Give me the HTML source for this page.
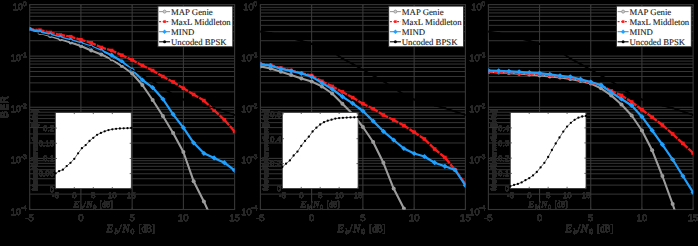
<!DOCTYPE html><html><head><meta charset="utf-8"><style>html,body{margin:0;padding:0;background:#000;overflow:hidden}svg{display:block}</style></head><body>
<svg xmlns="http://www.w3.org/2000/svg" width="698" height="246" viewBox="0 0 698 246" text-rendering="geometricPrecision">
<rect x="0" y="0" width="698" height="246" fill="#000"/>
<defs><filter id="blk" x="-20%" y="-20%" width="140%" height="140%"><feComponentTransfer><feFuncA type="discrete" tableValues="0 1 1 1 1 1 1 1 1 1 1 1"/></feComponentTransfer></filter></defs>
<clipPath id="clip0"><rect x="29.7" y="4.6" width="204.9" height="204.9"/></clipPath>
<path d="M29.7 40.73H234.6M29.7 31.73H234.6M29.7 25.34H234.6M29.7 20.39H234.6M29.7 16.34H234.6M29.7 12.92H234.6M29.7 9.95H234.6M29.7 7.34H234.6M29.7 91.86H234.6M29.7 82.86H234.6M29.7 76.47H234.6M29.7 71.52H234.6M29.7 67.47H234.6M29.7 64.04H234.6M29.7 61.08H234.6M29.7 58.46H234.6M29.7 142.98H234.6M29.7 133.98H234.6M29.7 127.59H234.6M29.7 122.64H234.6M29.7 118.59H234.6M29.7 115.17H234.6M29.7 112.20H234.6M29.7 109.59H234.6M29.7 194.11H234.6M29.7 185.11H234.6M29.7 178.72H234.6M29.7 173.77H234.6M29.7 169.72H234.6M29.7 166.29H234.6M29.7 163.33H234.6M29.7 160.71H234.6" stroke="#363636" stroke-width="1" fill="none"/>
<path d="M29.7 56.12H234.6M29.7 107.25H234.6M29.7 158.38H234.6M80.92 4.6V209.5M132.15 4.6V209.5M183.38 4.6V209.5" stroke="#3c3c3c" stroke-width="1" fill="none"/>
<path d="M29.70 209.5v-2M29.70 4.6v2M80.92 209.5v-2M80.92 4.6v2M132.15 209.5v-2M132.15 4.6v2M183.38 209.5v-2M183.38 4.6v2M234.60 209.5v-2M234.60 4.6v2" stroke="#363636" stroke-width="1" fill="none"/>
<rect x="29.7" y="4.6" width="204.9" height="204.9" fill="none" stroke="#363636" stroke-width="1.1"/>
<text x="22.90" y="9.60" font-family="Liberation Sans, sans-serif" font-size="9.2" fill="#272727" stroke="#272727" stroke-width="0.25" filter="url(#blk)" text-anchor="end">10</text>
<text x="22.90" y="5.50" font-family="Liberation Sans, sans-serif" font-size="6.6" fill="#272727" stroke="#272727" stroke-width="0.25" filter="url(#blk)">0</text>
<text x="20.90" y="60.83" font-family="Liberation Sans, sans-serif" font-size="9.2" fill="#272727" stroke="#272727" stroke-width="0.25" filter="url(#blk)" text-anchor="end">10</text>
<text x="20.90" y="56.73" font-family="Liberation Sans, sans-serif" font-size="6.6" fill="#272727" stroke="#272727" stroke-width="0.25" filter="url(#blk)">-1</text>
<text x="20.90" y="112.05" font-family="Liberation Sans, sans-serif" font-size="9.2" fill="#272727" stroke="#272727" stroke-width="0.25" filter="url(#blk)" text-anchor="end">10</text>
<text x="20.90" y="107.95" font-family="Liberation Sans, sans-serif" font-size="6.6" fill="#272727" stroke="#272727" stroke-width="0.25" filter="url(#blk)">-2</text>
<text x="20.90" y="163.28" font-family="Liberation Sans, sans-serif" font-size="9.2" fill="#272727" stroke="#272727" stroke-width="0.25" filter="url(#blk)" text-anchor="end">10</text>
<text x="20.90" y="159.18" font-family="Liberation Sans, sans-serif" font-size="6.6" fill="#272727" stroke="#272727" stroke-width="0.25" filter="url(#blk)">-3</text>
<text x="20.90" y="214.50" font-family="Liberation Sans, sans-serif" font-size="9.2" fill="#272727" stroke="#272727" stroke-width="0.25" filter="url(#blk)" text-anchor="end">10</text>
<text x="20.90" y="210.40" font-family="Liberation Sans, sans-serif" font-size="6.6" fill="#272727" stroke="#272727" stroke-width="0.25" filter="url(#blk)">-4</text>
<text x="29.70" y="221.4" font-family="Liberation Sans, sans-serif" font-size="9.6" fill="#272727" stroke="#272727" stroke-width="0.25" filter="url(#blk)" text-anchor="middle">-5</text>
<text x="80.92" y="221.4" font-family="Liberation Sans, sans-serif" font-size="9.6" fill="#272727" stroke="#272727" stroke-width="0.25" filter="url(#blk)" text-anchor="middle">0</text>
<text x="132.15" y="221.4" font-family="Liberation Sans, sans-serif" font-size="9.6" fill="#272727" stroke="#272727" stroke-width="0.25" filter="url(#blk)" text-anchor="middle">5</text>
<text x="183.38" y="221.4" font-family="Liberation Sans, sans-serif" font-size="9.6" fill="#272727" stroke="#272727" stroke-width="0.25" filter="url(#blk)" text-anchor="middle">10</text>
<text x="234.60" y="221.4" font-family="Liberation Sans, sans-serif" font-size="9.6" fill="#272727" stroke="#272727" stroke-width="0.25" filter="url(#blk)" text-anchor="middle">15</text>
<text x="106.55" y="232.40" font-family="Liberation Serif, serif" font-size="11.00" fill="#272727" stroke="#272727" stroke-width="0.25" filter="url(#blk)" font-style="italic">E</text><text x="114.55" y="234.40" font-family="Liberation Serif, serif" font-size="7.60" fill="#272727" stroke="#272727" stroke-width="0.25" filter="url(#blk)" font-style="italic">b</text><text x="118.55" y="232.40" font-family="Liberation Serif, serif" font-size="11.00" fill="#272727" stroke="#272727" stroke-width="0.25" filter="url(#blk)">/</text><text x="122.25" y="232.40" font-family="Liberation Serif, serif" font-size="11.00" fill="#272727" stroke="#272727" stroke-width="0.25" filter="url(#blk)" font-style="italic">N</text><text x="130.55" y="234.40" font-family="Liberation Serif, serif" font-size="7.60" fill="#272727" stroke="#272727" stroke-width="0.25" filter="url(#blk)">0</text><text x="138.45" y="232.40" font-family="Liberation Serif, serif" font-size="11.00" fill="#272727" stroke="#272727" stroke-width="0.25" filter="url(#blk)" textLength="16.40" lengthAdjust="spacingAndGlyphs">[dB]</text>
<g clip-path="url(#clip0)">
<polyline points="29.70,31.60 39.95,33.20 50.19,35.40 60.44,38.20 70.68,40.80 80.92,43.80 91.17,46.90 101.42,51.50 111.66,58.50 121.91,64.00 132.15,69.80 142.40,75.50 152.64,81.30 162.88,88.00 173.13,94.50 183.38,99.50 193.62,102.80 203.87,105.50 214.11,108.20 224.35,111.50 234.60,115.00" fill="none" stroke="#000" stroke-width="1.8" stroke-linejoin="round" />
<polyline points="29.70,29.50 39.95,33.00 50.19,36.00 60.44,39.30 70.68,42.50 80.92,46.00 91.17,50.50 101.42,54.50 111.66,59.30 121.91,66.00 132.15,73.50 142.40,85.00 152.64,100.00 162.88,116.00 173.13,133.00 183.38,152.00 193.62,181.20 203.87,201.40 214.11,224.00" fill="none" stroke="#9c9c9c" stroke-width="2.1" stroke-linejoin="round" />
<circle cx="29.70" cy="29.50" r="2.0" fill="#9c9c9c"/>
<circle cx="39.95" cy="33.00" r="2.0" fill="#9c9c9c"/>
<circle cx="50.19" cy="36.00" r="2.0" fill="#9c9c9c"/>
<circle cx="60.44" cy="39.30" r="2.0" fill="#9c9c9c"/>
<circle cx="70.68" cy="42.50" r="2.0" fill="#9c9c9c"/>
<circle cx="80.92" cy="46.00" r="2.0" fill="#9c9c9c"/>
<circle cx="91.17" cy="50.50" r="2.0" fill="#9c9c9c"/>
<circle cx="101.42" cy="54.50" r="2.0" fill="#9c9c9c"/>
<circle cx="111.66" cy="59.30" r="2.0" fill="#9c9c9c"/>
<circle cx="121.91" cy="66.00" r="2.0" fill="#9c9c9c"/>
<circle cx="132.15" cy="73.50" r="2.0" fill="#9c9c9c"/>
<circle cx="142.40" cy="85.00" r="2.0" fill="#9c9c9c"/>
<circle cx="152.64" cy="100.00" r="2.0" fill="#9c9c9c"/>
<circle cx="162.88" cy="116.00" r="2.0" fill="#9c9c9c"/>
<circle cx="173.13" cy="133.00" r="2.0" fill="#9c9c9c"/>
<circle cx="183.38" cy="152.00" r="2.0" fill="#9c9c9c"/>
<circle cx="193.62" cy="181.20" r="2.0" fill="#9c9c9c"/>
<circle cx="203.87" cy="201.40" r="2.0" fill="#9c9c9c"/>
<line x1="29.70" y1="29.00" x2="39.95" y2="30.20" stroke="#ff1a1a" stroke-width="2.3" stroke-dasharray="4.56 1.2 10.32"/>
<line x1="39.95" y1="30.20" x2="50.19" y2="32.50" stroke="#ff1a1a" stroke-width="2.3" stroke-dasharray="4.65 1.2 10.50"/>
<line x1="50.19" y1="32.50" x2="60.44" y2="35.00" stroke="#ff1a1a" stroke-width="2.3" stroke-dasharray="4.67 1.2 10.55"/>
<line x1="60.44" y1="35.00" x2="70.68" y2="36.70" stroke="#ff1a1a" stroke-width="2.3" stroke-dasharray="4.59 1.2 10.39"/>
<line x1="70.68" y1="36.70" x2="80.92" y2="39.80" stroke="#ff1a1a" stroke-width="2.3" stroke-dasharray="4.75 1.2 10.70"/>
<line x1="80.92" y1="39.80" x2="91.17" y2="42.80" stroke="#ff1a1a" stroke-width="2.3" stroke-dasharray="4.74 1.2 10.68"/>
<line x1="91.17" y1="42.80" x2="101.42" y2="47.50" stroke="#ff1a1a" stroke-width="2.3" stroke-dasharray="5.04 1.2 11.27"/>
<line x1="101.42" y1="47.50" x2="111.66" y2="50.50" stroke="#ff1a1a" stroke-width="2.3" stroke-dasharray="4.74 1.2 10.68"/>
<line x1="111.66" y1="50.50" x2="121.91" y2="55.20" stroke="#ff1a1a" stroke-width="2.3" stroke-dasharray="5.04 1.2 11.27"/>
<line x1="121.91" y1="55.20" x2="132.15" y2="60.00" stroke="#ff1a1a" stroke-width="2.3" stroke-dasharray="5.06 1.2 11.31"/>
<line x1="132.15" y1="60.00" x2="142.40" y2="65.40" stroke="#ff1a1a" stroke-width="2.3" stroke-dasharray="5.19 1.2 11.58"/>
<line x1="142.40" y1="65.40" x2="152.64" y2="70.50" stroke="#ff1a1a" stroke-width="2.3" stroke-dasharray="5.12 1.2 11.44"/>
<line x1="152.64" y1="70.50" x2="162.88" y2="76.50" stroke="#ff1a1a" stroke-width="2.3" stroke-dasharray="5.34 1.2 11.87"/>
<line x1="162.88" y1="76.50" x2="173.13" y2="82.00" stroke="#ff1a1a" stroke-width="2.3" stroke-dasharray="5.21 1.2 11.63"/>
<line x1="173.13" y1="82.00" x2="183.38" y2="88.30" stroke="#ff1a1a" stroke-width="2.3" stroke-dasharray="5.41 1.2 12.03"/>
<line x1="183.38" y1="88.30" x2="193.62" y2="94.50" stroke="#ff1a1a" stroke-width="2.3" stroke-dasharray="5.39 1.2 11.97"/>
<line x1="193.62" y1="94.50" x2="203.87" y2="100.60" stroke="#ff1a1a" stroke-width="2.3" stroke-dasharray="5.36 1.2 11.92"/>
<line x1="203.87" y1="100.60" x2="214.11" y2="110.20" stroke="#ff1a1a" stroke-width="2.3" stroke-dasharray="6.42 1.2 14.04"/>
<line x1="214.11" y1="110.20" x2="224.35" y2="119.80" stroke="#ff1a1a" stroke-width="2.3" stroke-dasharray="6.42 1.2 14.04"/>
<line x1="224.35" y1="119.80" x2="234.60" y2="131.50" stroke="#ff1a1a" stroke-width="2.3" stroke-dasharray="7.18 1.2 15.55"/>
<rect x="27.90" y="27.20" width="3.6" height="3.6" fill="#ff1a1a"/>
<rect x="38.15" y="28.40" width="3.6" height="3.6" fill="#ff1a1a"/>
<rect x="48.39" y="30.70" width="3.6" height="3.6" fill="#ff1a1a"/>
<rect x="58.64" y="33.20" width="3.6" height="3.6" fill="#ff1a1a"/>
<rect x="68.88" y="34.90" width="3.6" height="3.6" fill="#ff1a1a"/>
<rect x="79.12" y="38.00" width="3.6" height="3.6" fill="#ff1a1a"/>
<rect x="89.37" y="41.00" width="3.6" height="3.6" fill="#ff1a1a"/>
<rect x="99.62" y="45.70" width="3.6" height="3.6" fill="#ff1a1a"/>
<rect x="109.86" y="48.70" width="3.6" height="3.6" fill="#ff1a1a"/>
<rect x="120.11" y="53.40" width="3.6" height="3.6" fill="#ff1a1a"/>
<rect x="130.35" y="58.20" width="3.6" height="3.6" fill="#ff1a1a"/>
<rect x="140.59" y="63.60" width="3.6" height="3.6" fill="#ff1a1a"/>
<rect x="150.84" y="68.70" width="3.6" height="3.6" fill="#ff1a1a"/>
<rect x="161.08" y="74.70" width="3.6" height="3.6" fill="#ff1a1a"/>
<rect x="171.33" y="80.20" width="3.6" height="3.6" fill="#ff1a1a"/>
<rect x="181.57" y="86.50" width="3.6" height="3.6" fill="#ff1a1a"/>
<rect x="191.82" y="92.70" width="3.6" height="3.6" fill="#ff1a1a"/>
<rect x="202.06" y="98.80" width="3.6" height="3.6" fill="#ff1a1a"/>
<rect x="212.31" y="108.40" width="3.6" height="3.6" fill="#ff1a1a"/>
<rect x="222.55" y="118.00" width="3.6" height="3.6" fill="#ff1a1a"/>
<rect x="232.80" y="129.70" width="3.6" height="3.6" fill="#ff1a1a"/>
<polyline points="29.70,29.00 39.95,31.70 50.19,34.50 60.44,37.20 70.68,40.00 80.92,43.00 91.17,46.50 101.42,50.60 111.66,55.20 121.91,61.50 132.15,69.70 142.40,80.00 152.64,87.60 162.88,99.00 173.13,114.30 183.38,127.70 193.62,142.80 203.87,153.30 214.11,157.90 224.35,162.70 234.60,170.40" fill="none" stroke="#1fa0ff" stroke-width="2.2" stroke-linejoin="round" />
<path d="M29.70 26.40l2.6 2.6l-2.6 2.6l-2.6 -2.6z" fill="#1fa0ff"/>
<path d="M39.95 29.10l2.6 2.6l-2.6 2.6l-2.6 -2.6z" fill="#1fa0ff"/>
<path d="M50.19 31.90l2.6 2.6l-2.6 2.6l-2.6 -2.6z" fill="#1fa0ff"/>
<path d="M60.44 34.60l2.6 2.6l-2.6 2.6l-2.6 -2.6z" fill="#1fa0ff"/>
<path d="M70.68 37.40l2.6 2.6l-2.6 2.6l-2.6 -2.6z" fill="#1fa0ff"/>
<path d="M80.92 40.40l2.6 2.6l-2.6 2.6l-2.6 -2.6z" fill="#1fa0ff"/>
<path d="M91.17 43.90l2.6 2.6l-2.6 2.6l-2.6 -2.6z" fill="#1fa0ff"/>
<path d="M101.42 48.00l2.6 2.6l-2.6 2.6l-2.6 -2.6z" fill="#1fa0ff"/>
<path d="M111.66 52.60l2.6 2.6l-2.6 2.6l-2.6 -2.6z" fill="#1fa0ff"/>
<path d="M121.91 58.90l2.6 2.6l-2.6 2.6l-2.6 -2.6z" fill="#1fa0ff"/>
<path d="M132.15 67.10l2.6 2.6l-2.6 2.6l-2.6 -2.6z" fill="#1fa0ff"/>
<path d="M142.40 77.40l2.6 2.6l-2.6 2.6l-2.6 -2.6z" fill="#1fa0ff"/>
<path d="M152.64 85.00l2.6 2.6l-2.6 2.6l-2.6 -2.6z" fill="#1fa0ff"/>
<path d="M162.88 96.40l2.6 2.6l-2.6 2.6l-2.6 -2.6z" fill="#1fa0ff"/>
<path d="M173.13 111.70l2.6 2.6l-2.6 2.6l-2.6 -2.6z" fill="#1fa0ff"/>
<path d="M183.38 125.10l2.6 2.6l-2.6 2.6l-2.6 -2.6z" fill="#1fa0ff"/>
<path d="M193.62 140.20l2.6 2.6l-2.6 2.6l-2.6 -2.6z" fill="#1fa0ff"/>
<path d="M203.87 150.70l2.6 2.6l-2.6 2.6l-2.6 -2.6z" fill="#1fa0ff"/>
<path d="M214.11 155.30l2.6 2.6l-2.6 2.6l-2.6 -2.6z" fill="#1fa0ff"/>
<path d="M224.35 160.10l2.6 2.6l-2.6 2.6l-2.6 -2.6z" fill="#1fa0ff"/>
<path d="M234.60 167.80l2.6 2.6l-2.6 2.6l-2.6 -2.6z" fill="#1fa0ff"/>
<polyline points="29.70,31.60 39.95,33.20 50.19,35.40 60.44,38.20 70.68,40.80 80.92,43.80 91.17,46.90 101.42,51.50 111.66,58.50 121.91,64.00 132.15,69.80 142.40,75.50 152.64,81.30 162.88,88.00 173.13,94.50 183.38,99.50 193.62,102.80 203.87,105.50 214.11,108.20 224.35,111.50 234.60,115.00" fill="none" stroke="#000" stroke-width="1.0" stroke-linejoin="round" />
<circle cx="29.70" cy="31.60" r="1.1" fill="#000"/>
<circle cx="39.95" cy="33.20" r="1.1" fill="#000"/>
<circle cx="50.19" cy="35.40" r="1.1" fill="#000"/>
<circle cx="60.44" cy="38.20" r="1.1" fill="#000"/>
<circle cx="70.68" cy="40.80" r="1.1" fill="#000"/>
<circle cx="80.92" cy="43.80" r="1.1" fill="#000"/>
<circle cx="91.17" cy="46.90" r="1.1" fill="#000"/>
<circle cx="101.42" cy="51.50" r="1.1" fill="#000"/>
<circle cx="111.66" cy="58.50" r="1.1" fill="#000"/>
<circle cx="121.91" cy="64.00" r="1.1" fill="#000"/>
<circle cx="132.15" cy="69.80" r="1.1" fill="#000"/>
<circle cx="142.40" cy="75.50" r="1.1" fill="#000"/>
<circle cx="152.64" cy="81.30" r="1.1" fill="#000"/>
<circle cx="162.88" cy="88.00" r="1.1" fill="#000"/>
<circle cx="173.13" cy="94.50" r="1.1" fill="#000"/>
<circle cx="183.38" cy="99.50" r="1.1" fill="#000"/>
<circle cx="193.62" cy="102.80" r="1.1" fill="#000"/>
<circle cx="203.87" cy="105.50" r="1.1" fill="#000"/>
<circle cx="214.11" cy="108.20" r="1.1" fill="#000"/>
<circle cx="224.35" cy="111.50" r="1.1" fill="#000"/>
<circle cx="234.60" cy="115.00" r="1.1" fill="#000"/>
</g>
<rect x="55.3" y="112.5" width="76.00000000000001" height="76.1" fill="#fff" stroke="#363636" stroke-width="0.8"/>
<path d="M55.30 188.60v-1.6M55.30 112.50v1.6M74.30 188.60v-1.6M74.30 112.50v1.6M93.30 188.60v-1.6M93.30 112.50v1.6M112.30 188.60v-1.6M112.30 112.50v1.6M131.30 188.60v-1.6M131.30 112.50v1.6M55.30 188.80h1.6M131.30 188.80h-1.6M55.30 173.60h1.6M131.30 173.60h-1.6M55.30 158.50h1.6M131.30 158.50h-1.6M55.30 143.30h1.6M131.30 143.30h-1.6M55.30 128.10h1.6M131.30 128.10h-1.6" stroke="#444" stroke-width="0.8" fill="none"/>
<polyline points="55.30,173.40 59.10,171.20 62.90,169.70 66.70,166.10 70.50,162.80 74.30,158.80 78.10,153.30 81.90,148.20 85.70,145.10 89.50,141.00 93.30,137.80 97.10,134.80 100.90,132.90 104.70,131.30 108.50,130.10 112.30,129.30 116.10,128.80 119.90,128.50 123.70,128.30 127.50,128.20 131.30,128.00" fill="none" stroke="#2a2a2a" stroke-width="0.7" stroke-linejoin="round" />
<circle cx="55.30" cy="173.40" r="1.15" fill="#000"/>
<circle cx="59.10" cy="171.20" r="1.15" fill="#000"/>
<circle cx="62.90" cy="169.70" r="1.15" fill="#000"/>
<circle cx="66.70" cy="166.10" r="1.15" fill="#000"/>
<circle cx="70.50" cy="162.80" r="1.15" fill="#000"/>
<circle cx="74.30" cy="158.80" r="1.15" fill="#000"/>
<circle cx="78.10" cy="153.30" r="1.15" fill="#000"/>
<circle cx="81.90" cy="148.20" r="1.15" fill="#000"/>
<circle cx="85.70" cy="145.10" r="1.15" fill="#000"/>
<circle cx="89.50" cy="141.00" r="1.15" fill="#000"/>
<circle cx="93.30" cy="137.80" r="1.15" fill="#000"/>
<circle cx="97.10" cy="134.80" r="1.15" fill="#000"/>
<circle cx="100.90" cy="132.90" r="1.15" fill="#000"/>
<circle cx="104.70" cy="131.30" r="1.15" fill="#000"/>
<circle cx="108.50" cy="130.10" r="1.15" fill="#000"/>
<circle cx="112.30" cy="129.30" r="1.15" fill="#000"/>
<circle cx="116.10" cy="128.80" r="1.15" fill="#000"/>
<circle cx="119.90" cy="128.50" r="1.15" fill="#000"/>
<circle cx="123.70" cy="128.30" r="1.15" fill="#000"/>
<circle cx="127.50" cy="128.20" r="1.15" fill="#000"/>
<circle cx="131.30" cy="128.00" r="1.15" fill="#000"/>
<text x="54.10" y="191.60" font-family="Liberation Sans, sans-serif" font-size="7.9" fill="#272727" stroke="#272727" stroke-width="0.25" filter="url(#blk)" text-anchor="end">0</text>
<text x="54.10" y="176.40" font-family="Liberation Sans, sans-serif" font-size="7.9" fill="#272727" stroke="#272727" stroke-width="0.25" filter="url(#blk)" text-anchor="end">0.05</text>
<text x="54.10" y="161.30" font-family="Liberation Sans, sans-serif" font-size="7.9" fill="#272727" stroke="#272727" stroke-width="0.25" filter="url(#blk)" text-anchor="end">0.1</text>
<text x="54.10" y="146.10" font-family="Liberation Sans, sans-serif" font-size="7.9" fill="#272727" stroke="#272727" stroke-width="0.25" filter="url(#blk)" text-anchor="end">0.15</text>
<text x="54.10" y="130.90" font-family="Liberation Sans, sans-serif" font-size="7.9" fill="#272727" stroke="#272727" stroke-width="0.25" filter="url(#blk)" text-anchor="end">0.2</text>
<text x="55.30" y="198.0" font-family="Liberation Sans, sans-serif" font-size="8" fill="#272727" stroke="#272727" stroke-width="0.25" filter="url(#blk)" text-anchor="middle">-5</text>
<text x="74.30" y="198.0" font-family="Liberation Sans, sans-serif" font-size="8" fill="#272727" stroke="#272727" stroke-width="0.25" filter="url(#blk)" text-anchor="middle">0</text>
<text x="93.30" y="198.0" font-family="Liberation Sans, sans-serif" font-size="8" fill="#272727" stroke="#272727" stroke-width="0.25" filter="url(#blk)" text-anchor="middle">5</text>
<text x="112.30" y="198.0" font-family="Liberation Sans, sans-serif" font-size="8" fill="#272727" stroke="#272727" stroke-width="0.25" filter="url(#blk)" text-anchor="middle">10</text>
<text x="131.30" y="198.0" font-family="Liberation Sans, sans-serif" font-size="8" fill="#272727" stroke="#272727" stroke-width="0.25" filter="url(#blk)" text-anchor="middle">15</text>
<text x="73.73" y="207.00" font-family="Liberation Serif, serif" font-size="8.91" fill="#272727" stroke="#272727" stroke-width="0.25" filter="url(#blk)" font-style="italic">E</text><text x="80.21" y="208.62" font-family="Liberation Serif, serif" font-size="6.16" fill="#272727" stroke="#272727" stroke-width="0.25" filter="url(#blk)" font-style="italic">b</text><text x="83.45" y="207.00" font-family="Liberation Serif, serif" font-size="8.91" fill="#272727" stroke="#272727" stroke-width="0.25" filter="url(#blk)">/</text><text x="86.45" y="207.00" font-family="Liberation Serif, serif" font-size="8.91" fill="#272727" stroke="#272727" stroke-width="0.25" filter="url(#blk)" font-style="italic">N</text><text x="93.17" y="208.62" font-family="Liberation Serif, serif" font-size="6.16" fill="#272727" stroke="#272727" stroke-width="0.25" filter="url(#blk)">0</text><text x="99.57" y="207.00" font-family="Liberation Serif, serif" font-size="8.91" fill="#272727" stroke="#272727" stroke-width="0.25" filter="url(#blk)" textLength="13.28" lengthAdjust="spacingAndGlyphs">[dB]</text>
<text transform="translate(37.30,150.55) rotate(-90)" font-family="Liberation Sans, sans-serif" font-size="7.4" fill="#272727" stroke="#272727" stroke-width="0.25" filter="url(#blk)" text-anchor="middle" textLength="80" lengthAdjust="spacingAndGlyphs">Mutual information [bits]</text>
<rect x="157.90" y="6.1" width="74.90" height="40.7" fill="#fff" stroke="#262626" stroke-width="0.9"/>
<line x1="159.10" y1="11.6" x2="170.10" y2="11.6" stroke="#9c9c9c" stroke-width="1.1"/>
<circle cx="164.60" cy="11.6" r="1.5" fill="#d0d0d0" stroke="#9c9c9c" stroke-width="1"/>
<text x="171.00" y="14.60" font-family="Liberation Serif, serif" font-size="8.75" fill="#141414" stroke="#141414" stroke-width="0.1">MAP Genie</text>
<line x1="159.10" y1="21.6" x2="170.10" y2="21.6" stroke="#ff1a1a" stroke-width="1.3" stroke-dasharray="2 1.6"/>
<rect x="163.30" y="20.3" width="2.6" height="2.6" fill="#ff1a1a"/>
<text x="171.00" y="24.60" font-family="Liberation Serif, serif" font-size="8.75" fill="#141414" stroke="#141414" stroke-width="0.1">MaxL Middleton</text>
<line x1="159.10" y1="31.7" x2="170.10" y2="31.7" stroke="#1fa0ff" stroke-width="1.1"/>
<path d="M164.60 29.5l2.2 2.2l-2.2 2.2l-2.2 -2.2z" fill="#1fa0ff"/>
<text x="171.00" y="34.70" font-family="Liberation Serif, serif" font-size="8.75" fill="#141414" stroke="#141414" stroke-width="0.1">MIND</text>
<line x1="159.10" y1="41.8" x2="170.10" y2="41.8" stroke="#000" stroke-width="1.1"/>
<circle cx="164.60" cy="41.8" r="1.5" fill="#000"/>
<text x="171.00" y="44.80" font-family="Liberation Serif, serif" font-size="8.75" fill="#141414" stroke="#141414" stroke-width="0.1">Uncoded BPSK</text>
<clipPath id="clip1"><rect x="260.4" y="4.6" width="205.0" height="204.9"/></clipPath>
<path d="M260.4 40.73H465.4M260.4 31.73H465.4M260.4 25.34H465.4M260.4 20.39H465.4M260.4 16.34H465.4M260.4 12.92H465.4M260.4 9.95H465.4M260.4 7.34H465.4M260.4 91.86H465.4M260.4 82.86H465.4M260.4 76.47H465.4M260.4 71.52H465.4M260.4 67.47H465.4M260.4 64.04H465.4M260.4 61.08H465.4M260.4 58.46H465.4M260.4 142.98H465.4M260.4 133.98H465.4M260.4 127.59H465.4M260.4 122.64H465.4M260.4 118.59H465.4M260.4 115.17H465.4M260.4 112.20H465.4M260.4 109.59H465.4M260.4 194.11H465.4M260.4 185.11H465.4M260.4 178.72H465.4M260.4 173.77H465.4M260.4 169.72H465.4M260.4 166.29H465.4M260.4 163.33H465.4M260.4 160.71H465.4" stroke="#363636" stroke-width="1" fill="none"/>
<path d="M260.4 56.12H465.4M260.4 107.25H465.4M260.4 158.38H465.4M311.65 4.6V209.5M362.90 4.6V209.5M414.15 4.6V209.5" stroke="#3c3c3c" stroke-width="1" fill="none"/>
<path d="M260.40 209.5v-2M260.40 4.6v2M311.65 209.5v-2M311.65 4.6v2M362.90 209.5v-2M362.90 4.6v2M414.15 209.5v-2M414.15 4.6v2M465.40 209.5v-2M465.40 4.6v2" stroke="#363636" stroke-width="1" fill="none"/>
<rect x="260.4" y="4.6" width="205.0" height="204.9" fill="none" stroke="#363636" stroke-width="1.1"/>
<text x="253.60" y="9.60" font-family="Liberation Sans, sans-serif" font-size="9.2" fill="#272727" stroke="#272727" stroke-width="0.25" filter="url(#blk)" text-anchor="end">10</text>
<text x="253.60" y="5.50" font-family="Liberation Sans, sans-serif" font-size="6.6" fill="#272727" stroke="#272727" stroke-width="0.25" filter="url(#blk)">0</text>
<text x="251.60" y="60.83" font-family="Liberation Sans, sans-serif" font-size="9.2" fill="#272727" stroke="#272727" stroke-width="0.25" filter="url(#blk)" text-anchor="end">10</text>
<text x="251.60" y="56.73" font-family="Liberation Sans, sans-serif" font-size="6.6" fill="#272727" stroke="#272727" stroke-width="0.25" filter="url(#blk)">-1</text>
<text x="251.60" y="112.05" font-family="Liberation Sans, sans-serif" font-size="9.2" fill="#272727" stroke="#272727" stroke-width="0.25" filter="url(#blk)" text-anchor="end">10</text>
<text x="251.60" y="107.95" font-family="Liberation Sans, sans-serif" font-size="6.6" fill="#272727" stroke="#272727" stroke-width="0.25" filter="url(#blk)">-2</text>
<text x="251.60" y="163.28" font-family="Liberation Sans, sans-serif" font-size="9.2" fill="#272727" stroke="#272727" stroke-width="0.25" filter="url(#blk)" text-anchor="end">10</text>
<text x="251.60" y="159.18" font-family="Liberation Sans, sans-serif" font-size="6.6" fill="#272727" stroke="#272727" stroke-width="0.25" filter="url(#blk)">-3</text>
<text x="251.60" y="214.50" font-family="Liberation Sans, sans-serif" font-size="9.2" fill="#272727" stroke="#272727" stroke-width="0.25" filter="url(#blk)" text-anchor="end">10</text>
<text x="251.60" y="210.40" font-family="Liberation Sans, sans-serif" font-size="6.6" fill="#272727" stroke="#272727" stroke-width="0.25" filter="url(#blk)">-4</text>
<text x="260.40" y="221.4" font-family="Liberation Sans, sans-serif" font-size="9.6" fill="#272727" stroke="#272727" stroke-width="0.25" filter="url(#blk)" text-anchor="middle">-5</text>
<text x="311.65" y="221.4" font-family="Liberation Sans, sans-serif" font-size="9.6" fill="#272727" stroke="#272727" stroke-width="0.25" filter="url(#blk)" text-anchor="middle">0</text>
<text x="362.90" y="221.4" font-family="Liberation Sans, sans-serif" font-size="9.6" fill="#272727" stroke="#272727" stroke-width="0.25" filter="url(#blk)" text-anchor="middle">5</text>
<text x="414.15" y="221.4" font-family="Liberation Sans, sans-serif" font-size="9.6" fill="#272727" stroke="#272727" stroke-width="0.25" filter="url(#blk)" text-anchor="middle">10</text>
<text x="465.40" y="221.4" font-family="Liberation Sans, sans-serif" font-size="9.6" fill="#272727" stroke="#272727" stroke-width="0.25" filter="url(#blk)" text-anchor="middle">15</text>
<text x="337.30" y="232.40" font-family="Liberation Serif, serif" font-size="11.00" fill="#272727" stroke="#272727" stroke-width="0.25" filter="url(#blk)" font-style="italic">E</text><text x="345.30" y="234.40" font-family="Liberation Serif, serif" font-size="7.60" fill="#272727" stroke="#272727" stroke-width="0.25" filter="url(#blk)" font-style="italic">b</text><text x="349.30" y="232.40" font-family="Liberation Serif, serif" font-size="11.00" fill="#272727" stroke="#272727" stroke-width="0.25" filter="url(#blk)">/</text><text x="353.00" y="232.40" font-family="Liberation Serif, serif" font-size="11.00" fill="#272727" stroke="#272727" stroke-width="0.25" filter="url(#blk)" font-style="italic">N</text><text x="361.30" y="234.40" font-family="Liberation Serif, serif" font-size="7.60" fill="#272727" stroke="#272727" stroke-width="0.25" filter="url(#blk)">0</text><text x="369.20" y="232.40" font-family="Liberation Serif, serif" font-size="11.00" fill="#272727" stroke="#272727" stroke-width="0.25" filter="url(#blk)" textLength="16.40" lengthAdjust="spacingAndGlyphs">[dB]</text>
<g clip-path="url(#clip1)">
<polyline points="260.40,31.60 270.65,33.20 280.90,35.40 291.15,38.20 301.40,40.80 311.65,43.80 321.90,46.90 332.15,51.50 342.40,58.50 352.65,64.00 362.90,69.80 373.15,75.50 383.40,81.30 393.65,88.00 403.90,94.50 414.15,99.50 424.40,102.80 434.65,105.50 444.90,108.20 455.15,111.50 465.40,115.00" fill="none" stroke="#000" stroke-width="1.8" stroke-linejoin="round" />
<polyline points="260.40,66.40 270.65,68.50 280.90,71.80 291.15,74.90 301.40,78.50 311.65,81.50 321.90,86.40 332.15,93.50 342.40,103.70 352.65,114.00 362.90,127.00 373.15,142.00 383.40,162.80 393.65,188.60 403.90,208.60 414.15,230.00" fill="none" stroke="#9c9c9c" stroke-width="2.1" stroke-linejoin="round" />
<circle cx="260.40" cy="66.40" r="2.0" fill="#9c9c9c"/>
<circle cx="270.65" cy="68.50" r="2.0" fill="#9c9c9c"/>
<circle cx="280.90" cy="71.80" r="2.0" fill="#9c9c9c"/>
<circle cx="291.15" cy="74.90" r="2.0" fill="#9c9c9c"/>
<circle cx="301.40" cy="78.50" r="2.0" fill="#9c9c9c"/>
<circle cx="311.65" cy="81.50" r="2.0" fill="#9c9c9c"/>
<circle cx="321.90" cy="86.40" r="2.0" fill="#9c9c9c"/>
<circle cx="332.15" cy="93.50" r="2.0" fill="#9c9c9c"/>
<circle cx="342.40" cy="103.70" r="2.0" fill="#9c9c9c"/>
<circle cx="352.65" cy="114.00" r="2.0" fill="#9c9c9c"/>
<circle cx="362.90" cy="127.00" r="2.0" fill="#9c9c9c"/>
<circle cx="373.15" cy="142.00" r="2.0" fill="#9c9c9c"/>
<circle cx="383.40" cy="162.80" r="2.0" fill="#9c9c9c"/>
<circle cx="393.65" cy="188.60" r="2.0" fill="#9c9c9c"/>
<circle cx="403.90" cy="208.60" r="2.0" fill="#9c9c9c"/>
<line x1="260.40" y1="64.00" x2="270.65" y2="65.20" stroke="#ff1a1a" stroke-width="2.3" stroke-dasharray="4.56 1.2 10.32"/>
<line x1="270.65" y1="65.20" x2="280.90" y2="68.00" stroke="#ff1a1a" stroke-width="2.3" stroke-dasharray="4.71 1.2 10.63"/>
<line x1="280.90" y1="68.00" x2="291.15" y2="70.50" stroke="#ff1a1a" stroke-width="2.3" stroke-dasharray="4.68 1.2 10.55"/>
<line x1="291.15" y1="70.50" x2="301.40" y2="73.00" stroke="#ff1a1a" stroke-width="2.3" stroke-dasharray="4.68 1.2 10.55"/>
<line x1="301.40" y1="73.00" x2="311.65" y2="75.50" stroke="#ff1a1a" stroke-width="2.3" stroke-dasharray="4.68 1.2 10.55"/>
<line x1="311.65" y1="75.50" x2="321.90" y2="81.30" stroke="#ff1a1a" stroke-width="2.3" stroke-dasharray="5.29 1.2 11.78"/>
<line x1="321.90" y1="81.30" x2="332.15" y2="86.40" stroke="#ff1a1a" stroke-width="2.3" stroke-dasharray="5.12 1.2 11.45"/>
<line x1="332.15" y1="86.40" x2="342.40" y2="91.90" stroke="#ff1a1a" stroke-width="2.3" stroke-dasharray="5.22 1.2 11.63"/>
<line x1="342.40" y1="91.90" x2="352.65" y2="97.60" stroke="#ff1a1a" stroke-width="2.3" stroke-dasharray="5.26 1.2 11.73"/>
<line x1="352.65" y1="97.60" x2="362.90" y2="103.70" stroke="#ff1a1a" stroke-width="2.3" stroke-dasharray="5.36 1.2 11.93"/>
<line x1="362.90" y1="103.70" x2="373.15" y2="108.80" stroke="#ff1a1a" stroke-width="2.3" stroke-dasharray="5.12 1.2 11.45"/>
<line x1="373.15" y1="108.80" x2="383.40" y2="115.00" stroke="#ff1a1a" stroke-width="2.3" stroke-dasharray="5.39 1.2 11.98"/>
<line x1="383.40" y1="115.00" x2="393.65" y2="120.00" stroke="#ff1a1a" stroke-width="2.3" stroke-dasharray="5.10 1.2 11.40"/>
<line x1="393.65" y1="120.00" x2="403.90" y2="125.50" stroke="#ff1a1a" stroke-width="2.3" stroke-dasharray="5.22 1.2 11.63"/>
<line x1="403.90" y1="125.50" x2="414.15" y2="132.20" stroke="#ff1a1a" stroke-width="2.3" stroke-dasharray="5.52 1.2 12.25"/>
<line x1="414.15" y1="132.20" x2="424.40" y2="139.00" stroke="#ff1a1a" stroke-width="2.3" stroke-dasharray="5.55 1.2 12.30"/>
<line x1="424.40" y1="139.00" x2="434.65" y2="149.00" stroke="#ff1a1a" stroke-width="2.3" stroke-dasharray="6.56 1.2 14.32"/>
<line x1="434.65" y1="149.00" x2="444.90" y2="157.50" stroke="#ff1a1a" stroke-width="2.3" stroke-dasharray="6.06 1.2 13.32"/>
<line x1="444.90" y1="157.50" x2="455.15" y2="170.00" stroke="#ff1a1a" stroke-width="2.3" stroke-dasharray="7.48 1.2 16.17"/>
<line x1="455.15" y1="170.00" x2="465.40" y2="184.00" stroke="#ff1a1a" stroke-width="2.3" stroke-dasharray="8.08 1.2 17.35"/>
<rect x="258.60" y="62.20" width="3.6" height="3.6" fill="#ff1a1a"/>
<rect x="268.85" y="63.40" width="3.6" height="3.6" fill="#ff1a1a"/>
<rect x="279.10" y="66.20" width="3.6" height="3.6" fill="#ff1a1a"/>
<rect x="289.35" y="68.70" width="3.6" height="3.6" fill="#ff1a1a"/>
<rect x="299.60" y="71.20" width="3.6" height="3.6" fill="#ff1a1a"/>
<rect x="309.85" y="73.70" width="3.6" height="3.6" fill="#ff1a1a"/>
<rect x="320.10" y="79.50" width="3.6" height="3.6" fill="#ff1a1a"/>
<rect x="330.35" y="84.60" width="3.6" height="3.6" fill="#ff1a1a"/>
<rect x="340.60" y="90.10" width="3.6" height="3.6" fill="#ff1a1a"/>
<rect x="350.85" y="95.80" width="3.6" height="3.6" fill="#ff1a1a"/>
<rect x="361.10" y="101.90" width="3.6" height="3.6" fill="#ff1a1a"/>
<rect x="371.35" y="107.00" width="3.6" height="3.6" fill="#ff1a1a"/>
<rect x="381.60" y="113.20" width="3.6" height="3.6" fill="#ff1a1a"/>
<rect x="391.85" y="118.20" width="3.6" height="3.6" fill="#ff1a1a"/>
<rect x="402.10" y="123.70" width="3.6" height="3.6" fill="#ff1a1a"/>
<rect x="412.35" y="130.40" width="3.6" height="3.6" fill="#ff1a1a"/>
<rect x="422.60" y="137.20" width="3.6" height="3.6" fill="#ff1a1a"/>
<rect x="432.85" y="147.20" width="3.6" height="3.6" fill="#ff1a1a"/>
<rect x="443.10" y="155.70" width="3.6" height="3.6" fill="#ff1a1a"/>
<rect x="453.35" y="168.20" width="3.6" height="3.6" fill="#ff1a1a"/>
<rect x="463.60" y="182.20" width="3.6" height="3.6" fill="#ff1a1a"/>
<polyline points="260.40,64.20 270.65,65.70 280.90,68.80 291.15,70.90 301.40,73.50 311.65,76.60 321.90,82.90 332.15,89.00 342.40,96.60 352.65,103.30 362.90,111.00 373.15,121.10 383.40,131.30 393.65,140.00 403.90,148.50 414.15,153.50 424.40,156.50 434.65,162.70 444.90,166.30 455.15,170.00 465.40,185.50" fill="none" stroke="#1fa0ff" stroke-width="2.2" stroke-linejoin="round" />
<path d="M260.40 61.60l2.6 2.6l-2.6 2.6l-2.6 -2.6z" fill="#1fa0ff"/>
<path d="M270.65 63.10l2.6 2.6l-2.6 2.6l-2.6 -2.6z" fill="#1fa0ff"/>
<path d="M280.90 66.20l2.6 2.6l-2.6 2.6l-2.6 -2.6z" fill="#1fa0ff"/>
<path d="M291.15 68.30l2.6 2.6l-2.6 2.6l-2.6 -2.6z" fill="#1fa0ff"/>
<path d="M301.40 70.90l2.6 2.6l-2.6 2.6l-2.6 -2.6z" fill="#1fa0ff"/>
<path d="M311.65 74.00l2.6 2.6l-2.6 2.6l-2.6 -2.6z" fill="#1fa0ff"/>
<path d="M321.90 80.30l2.6 2.6l-2.6 2.6l-2.6 -2.6z" fill="#1fa0ff"/>
<path d="M332.15 86.40l2.6 2.6l-2.6 2.6l-2.6 -2.6z" fill="#1fa0ff"/>
<path d="M342.40 94.00l2.6 2.6l-2.6 2.6l-2.6 -2.6z" fill="#1fa0ff"/>
<path d="M352.65 100.70l2.6 2.6l-2.6 2.6l-2.6 -2.6z" fill="#1fa0ff"/>
<path d="M362.90 108.40l2.6 2.6l-2.6 2.6l-2.6 -2.6z" fill="#1fa0ff"/>
<path d="M373.15 118.50l2.6 2.6l-2.6 2.6l-2.6 -2.6z" fill="#1fa0ff"/>
<path d="M383.40 128.70l2.6 2.6l-2.6 2.6l-2.6 -2.6z" fill="#1fa0ff"/>
<path d="M393.65 137.40l2.6 2.6l-2.6 2.6l-2.6 -2.6z" fill="#1fa0ff"/>
<path d="M403.90 145.90l2.6 2.6l-2.6 2.6l-2.6 -2.6z" fill="#1fa0ff"/>
<path d="M414.15 150.90l2.6 2.6l-2.6 2.6l-2.6 -2.6z" fill="#1fa0ff"/>
<path d="M424.40 153.90l2.6 2.6l-2.6 2.6l-2.6 -2.6z" fill="#1fa0ff"/>
<path d="M434.65 160.10l2.6 2.6l-2.6 2.6l-2.6 -2.6z" fill="#1fa0ff"/>
<path d="M444.90 163.70l2.6 2.6l-2.6 2.6l-2.6 -2.6z" fill="#1fa0ff"/>
<path d="M455.15 167.40l2.6 2.6l-2.6 2.6l-2.6 -2.6z" fill="#1fa0ff"/>
<path d="M465.40 182.90l2.6 2.6l-2.6 2.6l-2.6 -2.6z" fill="#1fa0ff"/>
<polyline points="260.40,31.60 270.65,33.20 280.90,35.40 291.15,38.20 301.40,40.80 311.65,43.80 321.90,46.90 332.15,51.50 342.40,58.50 352.65,64.00 362.90,69.80 373.15,75.50 383.40,81.30 393.65,88.00 403.90,94.50 414.15,99.50 424.40,102.80 434.65,105.50 444.90,108.20 455.15,111.50 465.40,115.00" fill="none" stroke="#000" stroke-width="1.0" stroke-linejoin="round" />
<circle cx="260.40" cy="31.60" r="1.1" fill="#000"/>
<circle cx="270.65" cy="33.20" r="1.1" fill="#000"/>
<circle cx="280.90" cy="35.40" r="1.1" fill="#000"/>
<circle cx="291.15" cy="38.20" r="1.1" fill="#000"/>
<circle cx="301.40" cy="40.80" r="1.1" fill="#000"/>
<circle cx="311.65" cy="43.80" r="1.1" fill="#000"/>
<circle cx="321.90" cy="46.90" r="1.1" fill="#000"/>
<circle cx="332.15" cy="51.50" r="1.1" fill="#000"/>
<circle cx="342.40" cy="58.50" r="1.1" fill="#000"/>
<circle cx="352.65" cy="64.00" r="1.1" fill="#000"/>
<circle cx="362.90" cy="69.80" r="1.1" fill="#000"/>
<circle cx="373.15" cy="75.50" r="1.1" fill="#000"/>
<circle cx="383.40" cy="81.30" r="1.1" fill="#000"/>
<circle cx="393.65" cy="88.00" r="1.1" fill="#000"/>
<circle cx="403.90" cy="94.50" r="1.1" fill="#000"/>
<circle cx="414.15" cy="99.50" r="1.1" fill="#000"/>
<circle cx="424.40" cy="102.80" r="1.1" fill="#000"/>
<circle cx="434.65" cy="105.50" r="1.1" fill="#000"/>
<circle cx="444.90" cy="108.20" r="1.1" fill="#000"/>
<circle cx="455.15" cy="111.50" r="1.1" fill="#000"/>
<circle cx="465.40" cy="115.00" r="1.1" fill="#000"/>
</g>
<rect x="282.3" y="112.4" width="75.80000000000001" height="76.1" fill="#fff" stroke="#363636" stroke-width="0.8"/>
<path d="M282.30 188.50v-1.6M282.30 112.40v1.6M301.25 188.50v-1.6M301.25 112.40v1.6M320.20 188.50v-1.6M320.20 112.40v1.6M339.15 188.50v-1.6M339.15 112.40v1.6M358.10 188.50v-1.6M358.10 112.40v1.6M282.30 188.50h1.6M358.10 188.50h-1.6M282.30 163.60h1.6M358.10 163.60h-1.6M282.30 138.70h1.6M358.10 138.70h-1.6M282.30 113.80h1.6M358.10 113.80h-1.6" stroke="#444" stroke-width="0.8" fill="none"/>
<polyline points="282.30,167.00 286.09,163.70 289.88,160.40 293.67,155.50 297.46,151.60 301.25,145.80 305.04,140.90 308.83,136.70 312.62,131.50 316.41,127.70 320.20,124.50 323.99,122.20 327.78,120.70 331.57,119.70 335.36,118.60 339.15,118.10 342.94,117.80 346.73,117.60 350.52,117.40 354.31,117.30 358.10,117.10" fill="none" stroke="#2a2a2a" stroke-width="0.7" stroke-linejoin="round" />
<circle cx="282.30" cy="167.00" r="1.15" fill="#000"/>
<circle cx="286.09" cy="163.70" r="1.15" fill="#000"/>
<circle cx="289.88" cy="160.40" r="1.15" fill="#000"/>
<circle cx="293.67" cy="155.50" r="1.15" fill="#000"/>
<circle cx="297.46" cy="151.60" r="1.15" fill="#000"/>
<circle cx="301.25" cy="145.80" r="1.15" fill="#000"/>
<circle cx="305.04" cy="140.90" r="1.15" fill="#000"/>
<circle cx="308.83" cy="136.70" r="1.15" fill="#000"/>
<circle cx="312.62" cy="131.50" r="1.15" fill="#000"/>
<circle cx="316.41" cy="127.70" r="1.15" fill="#000"/>
<circle cx="320.20" cy="124.50" r="1.15" fill="#000"/>
<circle cx="323.99" cy="122.20" r="1.15" fill="#000"/>
<circle cx="327.78" cy="120.70" r="1.15" fill="#000"/>
<circle cx="331.57" cy="119.70" r="1.15" fill="#000"/>
<circle cx="335.36" cy="118.60" r="1.15" fill="#000"/>
<circle cx="339.15" cy="118.10" r="1.15" fill="#000"/>
<circle cx="342.94" cy="117.80" r="1.15" fill="#000"/>
<circle cx="346.73" cy="117.60" r="1.15" fill="#000"/>
<circle cx="350.52" cy="117.40" r="1.15" fill="#000"/>
<circle cx="354.31" cy="117.30" r="1.15" fill="#000"/>
<circle cx="358.10" cy="117.10" r="1.15" fill="#000"/>
<text x="281.10" y="191.30" font-family="Liberation Sans, sans-serif" font-size="7.9" fill="#272727" stroke="#272727" stroke-width="0.25" filter="url(#blk)" text-anchor="end">0</text>
<text x="281.10" y="166.40" font-family="Liberation Sans, sans-serif" font-size="7.9" fill="#272727" stroke="#272727" stroke-width="0.25" filter="url(#blk)" text-anchor="end">0.2</text>
<text x="281.10" y="141.50" font-family="Liberation Sans, sans-serif" font-size="7.9" fill="#272727" stroke="#272727" stroke-width="0.25" filter="url(#blk)" text-anchor="end">0.4</text>
<text x="281.10" y="116.60" font-family="Liberation Sans, sans-serif" font-size="7.9" fill="#272727" stroke="#272727" stroke-width="0.25" filter="url(#blk)" text-anchor="end">0.6</text>
<text x="282.30" y="198.0" font-family="Liberation Sans, sans-serif" font-size="8" fill="#272727" stroke="#272727" stroke-width="0.25" filter="url(#blk)" text-anchor="middle">-5</text>
<text x="301.25" y="198.0" font-family="Liberation Sans, sans-serif" font-size="8" fill="#272727" stroke="#272727" stroke-width="0.25" filter="url(#blk)" text-anchor="middle">0</text>
<text x="320.20" y="198.0" font-family="Liberation Sans, sans-serif" font-size="8" fill="#272727" stroke="#272727" stroke-width="0.25" filter="url(#blk)" text-anchor="middle">5</text>
<text x="339.15" y="198.0" font-family="Liberation Sans, sans-serif" font-size="8" fill="#272727" stroke="#272727" stroke-width="0.25" filter="url(#blk)" text-anchor="middle">10</text>
<text x="358.10" y="198.0" font-family="Liberation Sans, sans-serif" font-size="8" fill="#272727" stroke="#272727" stroke-width="0.25" filter="url(#blk)" text-anchor="middle">15</text>
<text x="300.63" y="207.00" font-family="Liberation Serif, serif" font-size="8.91" fill="#272727" stroke="#272727" stroke-width="0.25" filter="url(#blk)" font-style="italic">E</text><text x="307.11" y="208.62" font-family="Liberation Serif, serif" font-size="6.16" fill="#272727" stroke="#272727" stroke-width="0.25" filter="url(#blk)" font-style="italic">b</text><text x="310.35" y="207.00" font-family="Liberation Serif, serif" font-size="8.91" fill="#272727" stroke="#272727" stroke-width="0.25" filter="url(#blk)">/</text><text x="313.35" y="207.00" font-family="Liberation Serif, serif" font-size="8.91" fill="#272727" stroke="#272727" stroke-width="0.25" filter="url(#blk)" font-style="italic">N</text><text x="320.07" y="208.62" font-family="Liberation Serif, serif" font-size="6.16" fill="#272727" stroke="#272727" stroke-width="0.25" filter="url(#blk)">0</text><text x="326.47" y="207.00" font-family="Liberation Serif, serif" font-size="8.91" fill="#272727" stroke="#272727" stroke-width="0.25" filter="url(#blk)" textLength="13.28" lengthAdjust="spacingAndGlyphs">[dB]</text>
<text transform="translate(268.00,150.45) rotate(-90)" font-family="Liberation Sans, sans-serif" font-size="7.4" fill="#272727" stroke="#272727" stroke-width="0.25" filter="url(#blk)" text-anchor="middle" textLength="80" lengthAdjust="spacingAndGlyphs">Mutual information [bits]</text>
<rect x="388.70" y="6.1" width="74.90" height="40.7" fill="#fff" stroke="#262626" stroke-width="0.9"/>
<line x1="389.90" y1="11.6" x2="400.90" y2="11.6" stroke="#9c9c9c" stroke-width="1.1"/>
<circle cx="395.40" cy="11.6" r="1.5" fill="#d0d0d0" stroke="#9c9c9c" stroke-width="1"/>
<text x="401.80" y="14.60" font-family="Liberation Serif, serif" font-size="8.75" fill="#141414" stroke="#141414" stroke-width="0.1">MAP Genie</text>
<line x1="389.90" y1="21.6" x2="400.90" y2="21.6" stroke="#ff1a1a" stroke-width="1.3" stroke-dasharray="2 1.6"/>
<rect x="394.10" y="20.3" width="2.6" height="2.6" fill="#ff1a1a"/>
<text x="401.80" y="24.60" font-family="Liberation Serif, serif" font-size="8.75" fill="#141414" stroke="#141414" stroke-width="0.1">MaxL Middleton</text>
<line x1="389.90" y1="31.7" x2="400.90" y2="31.7" stroke="#1fa0ff" stroke-width="1.1"/>
<path d="M395.40 29.5l2.2 2.2l-2.2 2.2l-2.2 -2.2z" fill="#1fa0ff"/>
<text x="401.80" y="34.70" font-family="Liberation Serif, serif" font-size="8.75" fill="#141414" stroke="#141414" stroke-width="0.1">MIND</text>
<line x1="389.90" y1="41.8" x2="400.90" y2="41.8" stroke="#000" stroke-width="1.1"/>
<circle cx="395.40" cy="41.8" r="1.5" fill="#000"/>
<text x="401.80" y="44.80" font-family="Liberation Serif, serif" font-size="8.75" fill="#141414" stroke="#141414" stroke-width="0.1">Uncoded BPSK</text>
<clipPath id="clip2"><rect x="488.4" y="4.6" width="204.70000000000005" height="204.9"/></clipPath>
<path d="M488.4 40.73H693.1M488.4 31.73H693.1M488.4 25.34H693.1M488.4 20.39H693.1M488.4 16.34H693.1M488.4 12.92H693.1M488.4 9.95H693.1M488.4 7.34H693.1M488.4 91.86H693.1M488.4 82.86H693.1M488.4 76.47H693.1M488.4 71.52H693.1M488.4 67.47H693.1M488.4 64.04H693.1M488.4 61.08H693.1M488.4 58.46H693.1M488.4 142.98H693.1M488.4 133.98H693.1M488.4 127.59H693.1M488.4 122.64H693.1M488.4 118.59H693.1M488.4 115.17H693.1M488.4 112.20H693.1M488.4 109.59H693.1M488.4 194.11H693.1M488.4 185.11H693.1M488.4 178.72H693.1M488.4 173.77H693.1M488.4 169.72H693.1M488.4 166.29H693.1M488.4 163.33H693.1M488.4 160.71H693.1" stroke="#363636" stroke-width="1" fill="none"/>
<path d="M488.4 56.12H693.1M488.4 107.25H693.1M488.4 158.38H693.1M539.58 4.6V209.5M590.75 4.6V209.5M641.92 4.6V209.5" stroke="#3c3c3c" stroke-width="1" fill="none"/>
<path d="M488.40 209.5v-2M488.40 4.6v2M539.58 209.5v-2M539.58 4.6v2M590.75 209.5v-2M590.75 4.6v2M641.92 209.5v-2M641.92 4.6v2M693.10 209.5v-2M693.10 4.6v2" stroke="#363636" stroke-width="1" fill="none"/>
<rect x="488.4" y="4.6" width="204.70000000000005" height="204.9" fill="none" stroke="#363636" stroke-width="1.1"/>
<text x="481.60" y="9.60" font-family="Liberation Sans, sans-serif" font-size="9.2" fill="#272727" stroke="#272727" stroke-width="0.25" filter="url(#blk)" text-anchor="end">10</text>
<text x="481.60" y="5.50" font-family="Liberation Sans, sans-serif" font-size="6.6" fill="#272727" stroke="#272727" stroke-width="0.25" filter="url(#blk)">0</text>
<text x="479.60" y="60.83" font-family="Liberation Sans, sans-serif" font-size="9.2" fill="#272727" stroke="#272727" stroke-width="0.25" filter="url(#blk)" text-anchor="end">10</text>
<text x="479.60" y="56.73" font-family="Liberation Sans, sans-serif" font-size="6.6" fill="#272727" stroke="#272727" stroke-width="0.25" filter="url(#blk)">-1</text>
<text x="479.60" y="112.05" font-family="Liberation Sans, sans-serif" font-size="9.2" fill="#272727" stroke="#272727" stroke-width="0.25" filter="url(#blk)" text-anchor="end">10</text>
<text x="479.60" y="107.95" font-family="Liberation Sans, sans-serif" font-size="6.6" fill="#272727" stroke="#272727" stroke-width="0.25" filter="url(#blk)">-2</text>
<text x="479.60" y="163.28" font-family="Liberation Sans, sans-serif" font-size="9.2" fill="#272727" stroke="#272727" stroke-width="0.25" filter="url(#blk)" text-anchor="end">10</text>
<text x="479.60" y="159.18" font-family="Liberation Sans, sans-serif" font-size="6.6" fill="#272727" stroke="#272727" stroke-width="0.25" filter="url(#blk)">-3</text>
<text x="479.60" y="214.50" font-family="Liberation Sans, sans-serif" font-size="9.2" fill="#272727" stroke="#272727" stroke-width="0.25" filter="url(#blk)" text-anchor="end">10</text>
<text x="479.60" y="210.40" font-family="Liberation Sans, sans-serif" font-size="6.6" fill="#272727" stroke="#272727" stroke-width="0.25" filter="url(#blk)">-4</text>
<text x="488.40" y="221.4" font-family="Liberation Sans, sans-serif" font-size="9.6" fill="#272727" stroke="#272727" stroke-width="0.25" filter="url(#blk)" text-anchor="middle">-5</text>
<text x="539.58" y="221.4" font-family="Liberation Sans, sans-serif" font-size="9.6" fill="#272727" stroke="#272727" stroke-width="0.25" filter="url(#blk)" text-anchor="middle">0</text>
<text x="590.75" y="221.4" font-family="Liberation Sans, sans-serif" font-size="9.6" fill="#272727" stroke="#272727" stroke-width="0.25" filter="url(#blk)" text-anchor="middle">5</text>
<text x="641.92" y="221.4" font-family="Liberation Sans, sans-serif" font-size="9.6" fill="#272727" stroke="#272727" stroke-width="0.25" filter="url(#blk)" text-anchor="middle">10</text>
<text x="693.10" y="221.4" font-family="Liberation Sans, sans-serif" font-size="9.6" fill="#272727" stroke="#272727" stroke-width="0.25" filter="url(#blk)" text-anchor="middle">15</text>
<text x="565.15" y="232.40" font-family="Liberation Serif, serif" font-size="11.00" fill="#272727" stroke="#272727" stroke-width="0.25" filter="url(#blk)" font-style="italic">E</text><text x="573.15" y="234.40" font-family="Liberation Serif, serif" font-size="7.60" fill="#272727" stroke="#272727" stroke-width="0.25" filter="url(#blk)" font-style="italic">b</text><text x="577.15" y="232.40" font-family="Liberation Serif, serif" font-size="11.00" fill="#272727" stroke="#272727" stroke-width="0.25" filter="url(#blk)">/</text><text x="580.85" y="232.40" font-family="Liberation Serif, serif" font-size="11.00" fill="#272727" stroke="#272727" stroke-width="0.25" filter="url(#blk)" font-style="italic">N</text><text x="589.15" y="234.40" font-family="Liberation Serif, serif" font-size="7.60" fill="#272727" stroke="#272727" stroke-width="0.25" filter="url(#blk)">0</text><text x="597.05" y="232.40" font-family="Liberation Serif, serif" font-size="11.00" fill="#272727" stroke="#272727" stroke-width="0.25" filter="url(#blk)" textLength="16.40" lengthAdjust="spacingAndGlyphs">[dB]</text>
<g clip-path="url(#clip2)">
<polyline points="488.40,31.60 498.63,33.20 508.87,35.40 519.11,38.20 529.34,40.80 539.58,43.80 549.81,46.90 560.04,51.50 570.28,58.50 580.51,64.00 590.75,69.80 600.99,75.50 611.22,81.30 621.45,88.00 631.69,94.50 641.92,99.50 652.16,102.80 662.39,105.50 672.63,108.20 682.87,111.50 693.10,115.00" fill="none" stroke="#000" stroke-width="1.8" stroke-linejoin="round" />
<polyline points="488.40,72.00 498.63,72.50 508.87,73.00 519.11,73.80 529.34,74.50 539.58,75.50 549.81,76.50 560.04,77.50 570.28,79.00 580.51,81.00 590.75,83.60 600.99,88.30 611.22,95.40 621.45,104.50 631.69,115.50 641.92,130.50 652.16,150.30 662.39,176.00 672.63,204.00 682.87,235.00" fill="none" stroke="#9c9c9c" stroke-width="2.1" stroke-linejoin="round" />
<circle cx="488.40" cy="72.00" r="2.0" fill="#9c9c9c"/>
<circle cx="498.63" cy="72.50" r="2.0" fill="#9c9c9c"/>
<circle cx="508.87" cy="73.00" r="2.0" fill="#9c9c9c"/>
<circle cx="519.11" cy="73.80" r="2.0" fill="#9c9c9c"/>
<circle cx="529.34" cy="74.50" r="2.0" fill="#9c9c9c"/>
<circle cx="539.58" cy="75.50" r="2.0" fill="#9c9c9c"/>
<circle cx="549.81" cy="76.50" r="2.0" fill="#9c9c9c"/>
<circle cx="560.04" cy="77.50" r="2.0" fill="#9c9c9c"/>
<circle cx="570.28" cy="79.00" r="2.0" fill="#9c9c9c"/>
<circle cx="580.51" cy="81.00" r="2.0" fill="#9c9c9c"/>
<circle cx="590.75" cy="83.60" r="2.0" fill="#9c9c9c"/>
<circle cx="600.99" cy="88.30" r="2.0" fill="#9c9c9c"/>
<circle cx="611.22" cy="95.40" r="2.0" fill="#9c9c9c"/>
<circle cx="621.45" cy="104.50" r="2.0" fill="#9c9c9c"/>
<circle cx="631.69" cy="115.50" r="2.0" fill="#9c9c9c"/>
<circle cx="641.92" cy="130.50" r="2.0" fill="#9c9c9c"/>
<circle cx="652.16" cy="150.30" r="2.0" fill="#9c9c9c"/>
<circle cx="662.39" cy="176.00" r="2.0" fill="#9c9c9c"/>
<circle cx="672.63" cy="204.00" r="2.0" fill="#9c9c9c"/>
<line x1="488.40" y1="71.50" x2="498.63" y2="72.00" stroke="#ff1a1a" stroke-width="2.3" stroke-dasharray="4.52 1.2 10.25"/>
<line x1="498.63" y1="72.00" x2="508.87" y2="72.50" stroke="#ff1a1a" stroke-width="2.3" stroke-dasharray="4.52 1.2 10.25"/>
<line x1="508.87" y1="72.50" x2="519.11" y2="73.00" stroke="#ff1a1a" stroke-width="2.3" stroke-dasharray="4.52 1.2 10.25"/>
<line x1="519.11" y1="73.00" x2="529.34" y2="73.50" stroke="#ff1a1a" stroke-width="2.3" stroke-dasharray="4.52 1.2 10.25"/>
<line x1="529.34" y1="73.50" x2="539.58" y2="74.00" stroke="#ff1a1a" stroke-width="2.3" stroke-dasharray="4.52 1.2 10.25"/>
<line x1="539.58" y1="74.00" x2="549.81" y2="75.00" stroke="#ff1a1a" stroke-width="2.3" stroke-dasharray="4.54 1.2 10.28"/>
<line x1="549.81" y1="75.00" x2="560.04" y2="76.50" stroke="#ff1a1a" stroke-width="2.3" stroke-dasharray="4.57 1.2 10.34"/>
<line x1="560.04" y1="76.50" x2="570.28" y2="77.50" stroke="#ff1a1a" stroke-width="2.3" stroke-dasharray="4.54 1.2 10.28"/>
<line x1="570.28" y1="77.50" x2="580.51" y2="80.00" stroke="#ff1a1a" stroke-width="2.3" stroke-dasharray="4.67 1.2 10.54"/>
<line x1="580.51" y1="80.00" x2="590.75" y2="82.50" stroke="#ff1a1a" stroke-width="2.3" stroke-dasharray="4.67 1.2 10.54"/>
<line x1="590.75" y1="82.50" x2="600.99" y2="85.20" stroke="#ff1a1a" stroke-width="2.3" stroke-dasharray="4.69 1.2 10.59"/>
<line x1="600.99" y1="85.20" x2="611.22" y2="90.90" stroke="#ff1a1a" stroke-width="2.3" stroke-dasharray="5.26 1.2 11.72"/>
<line x1="611.22" y1="90.90" x2="621.45" y2="95.40" stroke="#ff1a1a" stroke-width="2.3" stroke-dasharray="4.99 1.2 11.18"/>
<line x1="621.45" y1="95.40" x2="631.69" y2="102.00" stroke="#ff1a1a" stroke-width="2.3" stroke-dasharray="5.49 1.2 12.18"/>
<line x1="631.69" y1="102.00" x2="641.92" y2="109.70" stroke="#ff1a1a" stroke-width="2.3" stroke-dasharray="5.80 1.2 12.81"/>
<line x1="641.92" y1="109.70" x2="652.16" y2="117.20" stroke="#ff1a1a" stroke-width="2.3" stroke-dasharray="5.74 1.2 12.69"/>
<line x1="652.16" y1="117.20" x2="662.39" y2="125.00" stroke="#ff1a1a" stroke-width="2.3" stroke-dasharray="5.83 1.2 12.87"/>
<line x1="662.39" y1="125.00" x2="672.63" y2="134.00" stroke="#ff1a1a" stroke-width="2.3" stroke-dasharray="6.21 1.2 13.63"/>
<line x1="672.63" y1="134.00" x2="682.87" y2="143.40" stroke="#ff1a1a" stroke-width="2.3" stroke-dasharray="6.35 1.2 13.90"/>
<line x1="682.87" y1="143.40" x2="693.10" y2="153.00" stroke="#ff1a1a" stroke-width="2.3" stroke-dasharray="6.42 1.2 14.03"/>
<rect x="486.60" y="69.70" width="3.6" height="3.6" fill="#ff1a1a"/>
<rect x="496.83" y="70.20" width="3.6" height="3.6" fill="#ff1a1a"/>
<rect x="507.07" y="70.70" width="3.6" height="3.6" fill="#ff1a1a"/>
<rect x="517.31" y="71.20" width="3.6" height="3.6" fill="#ff1a1a"/>
<rect x="527.54" y="71.70" width="3.6" height="3.6" fill="#ff1a1a"/>
<rect x="537.78" y="72.20" width="3.6" height="3.6" fill="#ff1a1a"/>
<rect x="548.01" y="73.20" width="3.6" height="3.6" fill="#ff1a1a"/>
<rect x="558.25" y="74.70" width="3.6" height="3.6" fill="#ff1a1a"/>
<rect x="568.48" y="75.70" width="3.6" height="3.6" fill="#ff1a1a"/>
<rect x="578.72" y="78.20" width="3.6" height="3.6" fill="#ff1a1a"/>
<rect x="588.95" y="80.70" width="3.6" height="3.6" fill="#ff1a1a"/>
<rect x="599.19" y="83.40" width="3.6" height="3.6" fill="#ff1a1a"/>
<rect x="609.42" y="89.10" width="3.6" height="3.6" fill="#ff1a1a"/>
<rect x="619.65" y="93.60" width="3.6" height="3.6" fill="#ff1a1a"/>
<rect x="629.89" y="100.20" width="3.6" height="3.6" fill="#ff1a1a"/>
<rect x="640.12" y="107.90" width="3.6" height="3.6" fill="#ff1a1a"/>
<rect x="650.36" y="115.40" width="3.6" height="3.6" fill="#ff1a1a"/>
<rect x="660.60" y="123.20" width="3.6" height="3.6" fill="#ff1a1a"/>
<rect x="670.83" y="132.20" width="3.6" height="3.6" fill="#ff1a1a"/>
<rect x="681.07" y="141.60" width="3.6" height="3.6" fill="#ff1a1a"/>
<rect x="691.30" y="151.20" width="3.6" height="3.6" fill="#ff1a1a"/>
<polyline points="488.40,70.50 498.63,70.80 508.87,71.30 519.11,71.80 529.34,72.60 539.58,73.20 549.81,74.30 560.04,75.80 570.28,76.80 580.51,79.20 590.75,82.00 600.99,85.00 611.22,92.30 621.45,99.00 631.69,105.50 641.92,116.70 652.16,130.50 662.39,144.60 672.63,159.50 682.87,176.00 693.10,192.40" fill="none" stroke="#1fa0ff" stroke-width="2.2" stroke-linejoin="round" />
<path d="M488.40 67.90l2.6 2.6l-2.6 2.6l-2.6 -2.6z" fill="#1fa0ff"/>
<path d="M498.63 68.20l2.6 2.6l-2.6 2.6l-2.6 -2.6z" fill="#1fa0ff"/>
<path d="M508.87 68.70l2.6 2.6l-2.6 2.6l-2.6 -2.6z" fill="#1fa0ff"/>
<path d="M519.11 69.20l2.6 2.6l-2.6 2.6l-2.6 -2.6z" fill="#1fa0ff"/>
<path d="M529.34 70.00l2.6 2.6l-2.6 2.6l-2.6 -2.6z" fill="#1fa0ff"/>
<path d="M539.58 70.60l2.6 2.6l-2.6 2.6l-2.6 -2.6z" fill="#1fa0ff"/>
<path d="M549.81 71.70l2.6 2.6l-2.6 2.6l-2.6 -2.6z" fill="#1fa0ff"/>
<path d="M560.04 73.20l2.6 2.6l-2.6 2.6l-2.6 -2.6z" fill="#1fa0ff"/>
<path d="M570.28 74.20l2.6 2.6l-2.6 2.6l-2.6 -2.6z" fill="#1fa0ff"/>
<path d="M580.51 76.60l2.6 2.6l-2.6 2.6l-2.6 -2.6z" fill="#1fa0ff"/>
<path d="M590.75 79.40l2.6 2.6l-2.6 2.6l-2.6 -2.6z" fill="#1fa0ff"/>
<path d="M600.99 82.40l2.6 2.6l-2.6 2.6l-2.6 -2.6z" fill="#1fa0ff"/>
<path d="M611.22 89.70l2.6 2.6l-2.6 2.6l-2.6 -2.6z" fill="#1fa0ff"/>
<path d="M621.45 96.40l2.6 2.6l-2.6 2.6l-2.6 -2.6z" fill="#1fa0ff"/>
<path d="M631.69 102.90l2.6 2.6l-2.6 2.6l-2.6 -2.6z" fill="#1fa0ff"/>
<path d="M641.92 114.10l2.6 2.6l-2.6 2.6l-2.6 -2.6z" fill="#1fa0ff"/>
<path d="M652.16 127.90l2.6 2.6l-2.6 2.6l-2.6 -2.6z" fill="#1fa0ff"/>
<path d="M662.39 142.00l2.6 2.6l-2.6 2.6l-2.6 -2.6z" fill="#1fa0ff"/>
<path d="M672.63 156.90l2.6 2.6l-2.6 2.6l-2.6 -2.6z" fill="#1fa0ff"/>
<path d="M682.87 173.40l2.6 2.6l-2.6 2.6l-2.6 -2.6z" fill="#1fa0ff"/>
<path d="M693.10 189.80l2.6 2.6l-2.6 2.6l-2.6 -2.6z" fill="#1fa0ff"/>
<polyline points="488.40,31.60 498.63,33.20 508.87,35.40 519.11,38.20 529.34,40.80 539.58,43.80 549.81,46.90 560.04,51.50 570.28,58.50 580.51,64.00 590.75,69.80 600.99,75.50 611.22,81.30 621.45,88.00 631.69,94.50 641.92,99.50 652.16,102.80 662.39,105.50 672.63,108.20 682.87,111.50 693.10,115.00" fill="none" stroke="#000" stroke-width="1.0" stroke-linejoin="round" />
<circle cx="488.40" cy="31.60" r="1.1" fill="#000"/>
<circle cx="498.63" cy="33.20" r="1.1" fill="#000"/>
<circle cx="508.87" cy="35.40" r="1.1" fill="#000"/>
<circle cx="519.11" cy="38.20" r="1.1" fill="#000"/>
<circle cx="529.34" cy="40.80" r="1.1" fill="#000"/>
<circle cx="539.58" cy="43.80" r="1.1" fill="#000"/>
<circle cx="549.81" cy="46.90" r="1.1" fill="#000"/>
<circle cx="560.04" cy="51.50" r="1.1" fill="#000"/>
<circle cx="570.28" cy="58.50" r="1.1" fill="#000"/>
<circle cx="580.51" cy="64.00" r="1.1" fill="#000"/>
<circle cx="590.75" cy="69.80" r="1.1" fill="#000"/>
<circle cx="600.99" cy="75.50" r="1.1" fill="#000"/>
<circle cx="611.22" cy="81.30" r="1.1" fill="#000"/>
<circle cx="621.45" cy="88.00" r="1.1" fill="#000"/>
<circle cx="631.69" cy="94.50" r="1.1" fill="#000"/>
<circle cx="641.92" cy="99.50" r="1.1" fill="#000"/>
<circle cx="652.16" cy="102.80" r="1.1" fill="#000"/>
<circle cx="662.39" cy="105.50" r="1.1" fill="#000"/>
<circle cx="672.63" cy="108.20" r="1.1" fill="#000"/>
<circle cx="682.87" cy="111.50" r="1.1" fill="#000"/>
<circle cx="693.10" cy="115.00" r="1.1" fill="#000"/>
</g>
<rect x="510.3" y="112.4" width="75.69999999999999" height="76.0" fill="#fff" stroke="#363636" stroke-width="0.8"/>
<path d="M510.30 188.40v-1.6M510.30 112.40v1.6M529.23 188.40v-1.6M529.23 112.40v1.6M548.15 188.40v-1.6M548.15 112.40v1.6M567.08 188.40v-1.6M567.08 112.40v1.6M586.00 188.40v-1.6M586.00 112.40v1.6M510.30 188.60h1.6M586.00 188.60h-1.6M510.30 173.40h1.6M586.00 173.40h-1.6M510.30 158.10h1.6M586.00 158.10h-1.6M510.30 142.90h1.6M586.00 142.90h-1.6M510.30 127.90h1.6M586.00 127.90h-1.6" stroke="#444" stroke-width="0.8" fill="none"/>
<polyline points="510.30,186.20 514.09,184.90 517.87,183.90 521.65,182.40 525.44,180.20 529.23,178.20 533.01,175.40 536.79,172.00 540.58,167.40 544.37,162.80 548.15,157.00 551.93,150.00 555.72,143.50 559.50,137.50 563.29,131.60 567.08,126.60 570.86,122.80 574.64,119.80 578.43,117.70 582.22,116.50 586.00,116.00" fill="none" stroke="#2a2a2a" stroke-width="0.7" stroke-linejoin="round" />
<circle cx="510.30" cy="186.20" r="1.15" fill="#000"/>
<circle cx="514.09" cy="184.90" r="1.15" fill="#000"/>
<circle cx="517.87" cy="183.90" r="1.15" fill="#000"/>
<circle cx="521.65" cy="182.40" r="1.15" fill="#000"/>
<circle cx="525.44" cy="180.20" r="1.15" fill="#000"/>
<circle cx="529.23" cy="178.20" r="1.15" fill="#000"/>
<circle cx="533.01" cy="175.40" r="1.15" fill="#000"/>
<circle cx="536.79" cy="172.00" r="1.15" fill="#000"/>
<circle cx="540.58" cy="167.40" r="1.15" fill="#000"/>
<circle cx="544.37" cy="162.80" r="1.15" fill="#000"/>
<circle cx="548.15" cy="157.00" r="1.15" fill="#000"/>
<circle cx="551.93" cy="150.00" r="1.15" fill="#000"/>
<circle cx="555.72" cy="143.50" r="1.15" fill="#000"/>
<circle cx="559.50" cy="137.50" r="1.15" fill="#000"/>
<circle cx="563.29" cy="131.60" r="1.15" fill="#000"/>
<circle cx="567.08" cy="126.60" r="1.15" fill="#000"/>
<circle cx="570.86" cy="122.80" r="1.15" fill="#000"/>
<circle cx="574.64" cy="119.80" r="1.15" fill="#000"/>
<circle cx="578.43" cy="117.70" r="1.15" fill="#000"/>
<circle cx="582.22" cy="116.50" r="1.15" fill="#000"/>
<circle cx="586.00" cy="116.00" r="1.15" fill="#000"/>
<text x="509.10" y="191.40" font-family="Liberation Sans, sans-serif" font-size="7.9" fill="#272727" stroke="#272727" stroke-width="0.25" filter="url(#blk)" text-anchor="end">0</text>
<text x="509.10" y="176.20" font-family="Liberation Sans, sans-serif" font-size="7.9" fill="#272727" stroke="#272727" stroke-width="0.25" filter="url(#blk)" text-anchor="end">0.1</text>
<text x="509.10" y="160.90" font-family="Liberation Sans, sans-serif" font-size="7.9" fill="#272727" stroke="#272727" stroke-width="0.25" filter="url(#blk)" text-anchor="end">0.2</text>
<text x="509.10" y="145.70" font-family="Liberation Sans, sans-serif" font-size="7.9" fill="#272727" stroke="#272727" stroke-width="0.25" filter="url(#blk)" text-anchor="end">0.3</text>
<text x="509.10" y="130.70" font-family="Liberation Sans, sans-serif" font-size="7.9" fill="#272727" stroke="#272727" stroke-width="0.25" filter="url(#blk)" text-anchor="end">0.4</text>
<text x="510.30" y="198.0" font-family="Liberation Sans, sans-serif" font-size="8" fill="#272727" stroke="#272727" stroke-width="0.25" filter="url(#blk)" text-anchor="middle">-5</text>
<text x="529.23" y="198.0" font-family="Liberation Sans, sans-serif" font-size="8" fill="#272727" stroke="#272727" stroke-width="0.25" filter="url(#blk)" text-anchor="middle">0</text>
<text x="548.15" y="198.0" font-family="Liberation Sans, sans-serif" font-size="8" fill="#272727" stroke="#272727" stroke-width="0.25" filter="url(#blk)" text-anchor="middle">5</text>
<text x="567.08" y="198.0" font-family="Liberation Sans, sans-serif" font-size="8" fill="#272727" stroke="#272727" stroke-width="0.25" filter="url(#blk)" text-anchor="middle">10</text>
<text x="586.00" y="198.0" font-family="Liberation Sans, sans-serif" font-size="8" fill="#272727" stroke="#272727" stroke-width="0.25" filter="url(#blk)" text-anchor="middle">15</text>
<text x="528.58" y="207.00" font-family="Liberation Serif, serif" font-size="8.91" fill="#272727" stroke="#272727" stroke-width="0.25" filter="url(#blk)" font-style="italic">E</text><text x="535.06" y="208.62" font-family="Liberation Serif, serif" font-size="6.16" fill="#272727" stroke="#272727" stroke-width="0.25" filter="url(#blk)" font-style="italic">b</text><text x="538.30" y="207.00" font-family="Liberation Serif, serif" font-size="8.91" fill="#272727" stroke="#272727" stroke-width="0.25" filter="url(#blk)">/</text><text x="541.30" y="207.00" font-family="Liberation Serif, serif" font-size="8.91" fill="#272727" stroke="#272727" stroke-width="0.25" filter="url(#blk)" font-style="italic">N</text><text x="548.02" y="208.62" font-family="Liberation Serif, serif" font-size="6.16" fill="#272727" stroke="#272727" stroke-width="0.25" filter="url(#blk)">0</text><text x="554.42" y="207.00" font-family="Liberation Serif, serif" font-size="8.91" fill="#272727" stroke="#272727" stroke-width="0.25" filter="url(#blk)" textLength="13.28" lengthAdjust="spacingAndGlyphs">[dB]</text>
<text transform="translate(496.00,150.40) rotate(-90)" font-family="Liberation Sans, sans-serif" font-size="7.4" fill="#272727" stroke="#272727" stroke-width="0.25" filter="url(#blk)" text-anchor="middle" textLength="80" lengthAdjust="spacingAndGlyphs">Mutual information [bits]</text>
<rect x="616.40" y="6.1" width="74.90" height="40.7" fill="#fff" stroke="#262626" stroke-width="0.9"/>
<line x1="617.60" y1="11.6" x2="628.60" y2="11.6" stroke="#9c9c9c" stroke-width="1.1"/>
<circle cx="623.10" cy="11.6" r="1.5" fill="#d0d0d0" stroke="#9c9c9c" stroke-width="1"/>
<text x="629.50" y="14.60" font-family="Liberation Serif, serif" font-size="8.75" fill="#141414" stroke="#141414" stroke-width="0.1">MAP Genie</text>
<line x1="617.60" y1="21.6" x2="628.60" y2="21.6" stroke="#ff1a1a" stroke-width="1.3" stroke-dasharray="2 1.6"/>
<rect x="621.80" y="20.3" width="2.6" height="2.6" fill="#ff1a1a"/>
<text x="629.50" y="24.60" font-family="Liberation Serif, serif" font-size="8.75" fill="#141414" stroke="#141414" stroke-width="0.1">MaxL Middleton</text>
<line x1="617.60" y1="31.7" x2="628.60" y2="31.7" stroke="#1fa0ff" stroke-width="1.1"/>
<path d="M623.10 29.5l2.2 2.2l-2.2 2.2l-2.2 -2.2z" fill="#1fa0ff"/>
<text x="629.50" y="34.70" font-family="Liberation Serif, serif" font-size="8.75" fill="#141414" stroke="#141414" stroke-width="0.1">MIND</text>
<line x1="617.60" y1="41.8" x2="628.60" y2="41.8" stroke="#000" stroke-width="1.1"/>
<circle cx="623.10" cy="41.8" r="1.5" fill="#000"/>
<text x="629.50" y="44.80" font-family="Liberation Serif, serif" font-size="8.75" fill="#141414" stroke="#141414" stroke-width="0.1">Uncoded BPSK</text>
<text transform="translate(7.8,107) rotate(-90)" font-family="Liberation Sans, sans-serif" font-size="10.6" fill="#272727" stroke="#272727" stroke-width="0.25" filter="url(#blk)" text-anchor="middle">BER</text>
</svg></body></html>
